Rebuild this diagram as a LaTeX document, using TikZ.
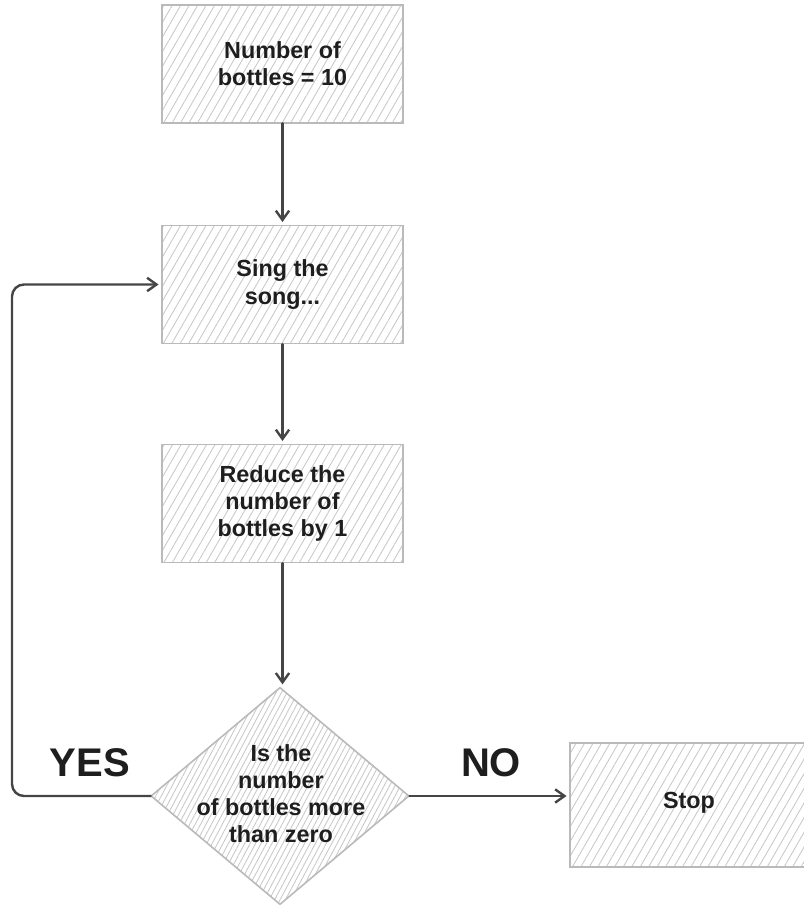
\documentclass[tikz,border=0pt]{standalone}
\usepackage{fontspec}
\setmainfont{Liberation Sans}
\usetikzlibrary{arrows.meta,patterns.meta,shapes.geometric}
\definecolor{hatch}{HTML}{C8C8C8}
\definecolor{edgec}{HTML}{BABABA}
\definecolor{arrowc}{HTML}{454545}
\definecolor{txt}{HTML}{1E1E1E}
\begin{document}
\begin{tikzpicture}[x=0.75pt,y=0.75pt,
  box/.style={draw=edgec,line width=1.2pt,
    pattern={Lines[angle=60,distance=5.5pt,line width=0.65pt]},pattern color=hatch,
    minimum width=180.75pt,minimum height=88.5pt,inner sep=0pt,align=center,
    font=\bfseries\fontsize{17.5}{20.3}\selectfont,text=txt},
  decision/.style={shape=diamond,draw=edgec,line width=1.2pt,
    pattern={Lines[angle=62,distance=3.6pt,line width=0.65pt]},pattern color=hatch,
    aspect=1.19,minimum width=193.5pt,minimum height=162.75pt,inner sep=0pt},
  dtext/.style={align=center,inner sep=0pt,
    font=\bfseries\fontsize{17.5}{20.3}\selectfont,text=txt},
  flow/.style={draw=arrowc,line width=1.8pt,line cap=round,line join=round,
    -{Straight Barb[length=7pt,width=10pt,line width=1.8pt]}},
  lbl/.style={font=\bfseries\fontsize{30}{34}\selectfont,text=txt,inner sep=0pt}]
\useasboundingbox (0,0) rectangle (803,905);
\node[box] (b1) at (282.5,841) {Number of\\bottles = 10};
\node[box] (b2) at (282.5,620.5) {Sing the\\song...};
\node[box] (b3) at (282.5,401.5) {Reduce the\\number of\\bottles by 1};
\node[decision] (dec) at (280,109) {};
\node[dtext] (dect) at (281,111) {Is the\\number\\of bottles more\\than zero};
\node[box,minimum width=178.5pt,minimum height=93pt] (stop) at (689,100) {\raisebox{7.5pt}{Stop}};
\node[lbl] (yes) at (90,142) {YES};
\node[lbl] (no) at (491,142) {NO};
\coordinate (lb) at (12,109);
\coordinate (lt) at (12,620.5);
\draw[flow] (b1.south) -- ([yshift=2]b2.north);
\draw[flow] (b2.south) -- ([yshift=2]b3.north);
\draw[flow] (b3.south) -- ([yshift=2]b3.south |- dec.north);
\draw[flow] (dec.east) -- ([xshift=-2]stop.west |- dec.east);
\draw[flow,rounded corners=9pt] (dec.west) -- (lb) -- (lt) -- ([xshift=-2]b2.west);
\end{tikzpicture}
\end{document}
